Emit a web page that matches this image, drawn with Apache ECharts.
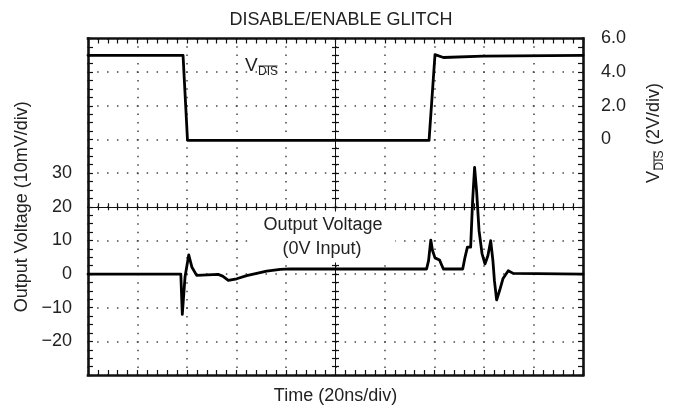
<!DOCTYPE html>
<html><head><meta charset="utf-8">
<script src="https://cdn.jsdelivr.net/npm/echarts@6/dist/echarts.min.js"></script>
<style>html,body{margin:0;padding:0;background:#fff}#c{width:679px;height:412px}</style>
</head><body><div id="c"></div>
<script>
// ---------- data ----------
const chartTitle = 'DISABLE/ENABLE GLITCH';
const xAxisName = 'Time (20ns/div)';
const leftAxisName = 'Output Voltage (10mV/div)';
const rightAxisNameMain = ' (2V/div)';
const annotation1 = 'Output Voltage';
const annotation2 = '(0V Input)';
const leftTickLabels = [-20, -10, 0, 10, 20, 30];
const rightTickLabels = [0, 2, 4, 6];
// time in ns relative to screen centre (20 ns/div)
const vdisTime  = [-100, -61.6, -59.8, 37.8, 40.2, 43.6, 59.6, 100];
const vdisValue = [5.0, 5.0, -0.05, -0.05, 5.04, 4.87, 4.95, 5.0];
const outTime  = [-100, -62.5, -61.9, -60.8, -59.3, -58.0, -56.1, -47.4, -45.6, -43.3, -39.9, -35.9, -27.8, -22.4, -18.4,
                  36.8, 37.6, 38.5, 39.2, 40.2, 42.0, 43.6, 51.4, 52.3, 53.3, 54.6, 55.4, 56.2, 57.0, 58.0, 59.2, 60.4,
                  61.6, 62.7, 63.6, 64.2, 65.1, 66.3, 67.7, 69.8, 71.8, 100];
const outValue = [0, 0, -12.0, -0.9, 5.7, 2.0, -0.4, -0.1, -0.6, -1.9, -1.4, -0.45, 0.85, 1.4, 1.55,
                  1.5, 4.0, 10.1, 7.0, 4.8, 4.2, 1.5, 1.5, 4.9, 8.0, 8.0, 21.8, 31.7, 24.8, 12.9, 6.1, 3.0,
                  5.5, 9.9, 4.0, -1.9, -7.7, -4.9, -1.3, 1.0, 0.2, 0];

// ---------- chart ----------
const FONT = 'Liberation Sans, Arial, Helvetica, sans-serif';
const TXT = '#222';
const INK = '#111';
const chart = echarts.init(document.getElementById('c'), null, {renderer: 'canvas'});

const border = {show: true, onZero: false, lineStyle: {color: INK, width: 2.6, cap: 'square'}};
const centre = (idx) => ({show: true, onZero: true, onZeroAxisIndex: idx, lineStyle: {color: INK, width: 1}});
const tick = (len) => ({show: true, inside: true, length: len, lineStyle: {color: INK, width: 1.2}});
const minor = (n, len) => ({show: true, splitNumber: n, length: len, lineStyle: {color: INK, width: 1.2}});
const noLabel = {show: false};
const xBase = {type: 'value', min: -100, max: 100, interval: 20, axisLabel: noLabel, splitLine: {show: false}};
const yHelp = {type: 'value', min: -5, max: 5, interval: 1, axisLabel: noLabel, splitLine: {show: false}};
const txt = (s, size, align) => ({text: s, font: size + 'px ' + FONT, fill: TXT, align: align, verticalAlign: 'middle', textAlign: align, textVerticalAlign: 'middle'});

const option = {
  animation: false,
  backgroundColor: '#fff',
  title: {
    text: chartTitle, left: 336, top: 6, textAlign: 'center',
    textStyle: {fontFamily: FONT, fontSize: 18, fontWeight: 'normal', color: TXT}
  },
  grid: {left: 88, right: 96, top: 38.5, bottom: 37, containLabel: false, outerBoundsMode: 'none'},
  xAxis: [
    Object.assign({}, xBase, {
      position: 'bottom', axisLine: border, axisTick: tick(5), minorTick: minor(5, 5),
      splitLine: {show: true, lineStyle: {color: '#444', width: 1.5, type: [1.5, 6.93], dashOffset: 0.75}},
      name: xAxisName, nameLocation: 'middle', nameGap: 12,
      nameTextStyle: {fontFamily: FONT, fontSize: 18, color: TXT}
    }),
    Object.assign({}, xBase, {position: 'top', axisLine: border, axisTick: tick(5), minorTick: minor(5, 5)}),
    Object.assign({}, xBase, {position: 'bottom', axisLine: centre(2), axisTick: tick(3.5), minorTick: minor(5, 3.5)}),
    Object.assign({}, xBase, {position: 'top', axisLine: centre(2), axisTick: tick(3.5), minorTick: minor(5, 3.5)})
  ],
  yAxis: [
    {
      type: 'value', position: 'left', min: -30, max: 70, interval: 10,
      axisLine: border, axisTick: tick(5), minorTick: minor(4, 5),
      splitLine: {show: true, lineStyle: {color: '#444', width: 1.5, type: [1.5, 8.4], dashOffset: 0.75}},
      axisLabel: {
        show: true, margin: 16, fontFamily: FONT, fontSize: 18, color: TXT, showMinLabel: true, showMaxLabel: true,
        formatter: v => leftTickLabels.includes(v) ? (v < 0 ? '\u2212' + Math.abs(v) : String(v)) : ''
      },
      name: leftAxisName, nameLocation: 'middle', nameRotate: 90, nameGap: 52,
      nameTextStyle: {fontFamily: FONT, fontSize: 18, color: TXT}
    },
    {
      type: 'value', position: 'right', min: -14, max: 6, interval: 2,
      axisLine: border, axisTick: tick(5), minorTick: minor(4, 5), splitLine: {show: false},
      axisLabel: {
        show: true, margin: 18, fontFamily: FONT, fontSize: 18, color: TXT, showMinLabel: true, showMaxLabel: true,
        formatter: v => rightTickLabels.includes(v) ? (v === 0 ? '0' : v.toFixed(1)) : ''
      }
    },
    Object.assign({}, yHelp, {position: 'left', axisLine: centre(0), axisTick: tick(3.5), minorTick: minor(4, 3.5)}),
    Object.assign({}, yHelp, {position: 'right', axisLine: centre(0), axisTick: tick(3.5), minorTick: minor(4, 3.5)})
  ],
  graphic: [
    {type: 'rect', z: 1, shape: {x: 253, y: 211.5, width: 142, height: 51}, style: {fill: '#fff'}},
    {type: 'text', z: 6, x: 323, y: 225, style: txt(annotation1, 18, 'center')},
    {type: 'text', z: 6, x: 322, y: 249, style: txt(annotation2, 18, 'center')},
    {type: 'group', x: 245, y: 65.5, z: 6, children: [
      {type: 'text', x: 0, y: 0, style: txt('V', 19, 'left')},
      {type: 'text', x: 13, y: 6, style: txt('DIS', 12, 'left')},
      {type: 'line', shape: {x1: 13.5, y1: 0.5, x2: 32.5, y2: 0.5}, style: {stroke: TXT, lineWidth: 1}}
    ]},
    {type: 'group', x: 654, y: 183, rotation: Math.PI / 2, children: [
      {type: 'text', x: 0, y: 0, style: txt('V', 18, 'left')},
      {type: 'text', x: 12.5, y: 5.5, style: txt('DIS', 12, 'left')},
      {type: 'line', shape: {x1: 13, y1: 0, x2: 32, y2: 0}, style: {stroke: TXT, lineWidth: 1}},
      {type: 'text', x: 33, y: 0, style: txt(rightAxisNameMain, 18, 'left')}
    ]}
  ],
  series: [
    {
      type: 'line', xAxisIndex: 0, yAxisIndex: 1, showSymbol: false, symbol: 'none', silent: true, z: 5,
      data: vdisTime.map((t, i) => [t, vdisValue[i]]),
      lineStyle: {color: '#000', width: 2.8, join: 'round', cap: 'round'}
    },
    {
      type: 'line', xAxisIndex: 0, yAxisIndex: 0, showSymbol: false, symbol: 'none', silent: true, z: 5,
      data: outTime.map((t, i) => [t, outValue[i]]),
      lineStyle: {color: '#000', width: 2.8, join: 'round', cap: 'round'}
    }
  ]
};
chart.setOption(option);
</script>
</body></html>
